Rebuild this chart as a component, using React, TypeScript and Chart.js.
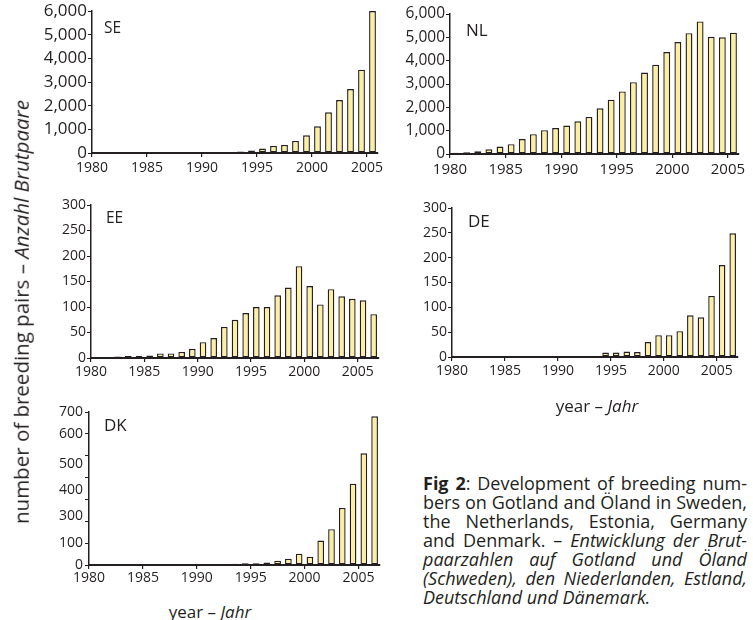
import React, { useEffect, useRef } from "react";
import { Chart, registerables } from "chart.js";

Chart.register(...registerables);

const FONT = '"Open Sans", "Noto Sans", sans-serif';
const INK = "#231f20";
const FILL = "#fcefa2";

// x-axis tick labels (years)
const YEAR_TICKS = [1980, 1985, 1990, 1995, 2000, 2005];

// Sweden (Gotland & Öland)
const SE_YEARS = [1989, 1990, 1991, 1992, 1993, 1994, 1995, 1996, 1997, 1998, 1999, 2000, 2001, 2002, 2003, 2004, 2005];
const SE_PAIRS = [20, 20, 20, 30, 60, 110, 190, 300, 340, 510, 750, 1130, 1720, 2240, 2700, 3520, 6000];

// Netherlands
const NL_YEARS = [1980, 1981, 1982, 1983, 1984, 1985, 1986, 1987, 1988, 1989, 1990, 1991, 1992, 1993, 1994, 1995, 1996, 1997, 1998, 1999, 2000, 2001, 2002, 2003, 2004, 2005];
const NL_PAIRS = [50, 80, 120, 200, 320, 420, 640, 850, 1020, 1110, 1220, 1400, 1590, 1960, 2330, 2680, 3080, 3490, 3830, 4370, 4800, 5180, 5680, 5020, 5000, 5200];

// Estonia
const EE_YEARS = [1981, 1982, 1983, 1984, 1985, 1986, 1987, 1988, 1989, 1990, 1991, 1992, 1993, 1994, 1995, 1996, 1997, 1998, 1999, 2000, 2001, 2002, 2003, 2004, 2005, 2006];
const EE_PAIRS = [2, 3, 4, 4, 5, 9, 9, 12, 18, 31, 39, 61, 75, 88, 100, 100, 123, 138, 180, 141, 105, 135, 121, 116, 113, 86];

// Germany
const DE_YEARS = [1994, 1995, 1996, 1997, 1998, 1999, 2000, 2001, 2002, 2003, 2004, 2005, 2006];
const DE_PAIRS = [9, 9, 11, 10, 30, 44, 44, 52, 84, 80, 123, 185, 249];

// Denmark
const DK_YEARS = [1993, 1994, 1995, 1996, 1997, 1998, 1999, 2000, 2001, 2002, 2003, 2004, 2005, 2006];
const DK_PAIRS = [6, 8, 8, 11, 20, 29, 52, 38, 112, 164, 261, 372, 511, 680];
// DK tick labels as printed in the original (200 missing, labels drift)
const DK_LABEL_VALUES = [0, 100, 226, 342, 460, 600, 700];
const DK_LABEL_TEXT = ["0", "100", "300", "400", "500", "600", "700"];

type Spec = {
  years: number[];
  pairs: number[];
  xMax: number;
  yMax: number;
  yStep: number;
  comma: boolean;
  plot: [number, number, number, number];
  yFont: number;
  xFont: number;
  xPad: number;
  labelAt?: number[];
  labelText?: string[];
};

const PANELS: Spec[] = [
  { years: SE_YEARS, pairs: SE_PAIRS, xMax: 2006, yMax: 6000, yStep: 1000, comma: true, plot: [92, 11, 378, 153], yFont: 17, xFont: 14, xPad: 3 },
  { years: NL_YEARS, pairs: NL_PAIRS, xMax: 2006, yMax: 6000, yStep: 1000, comma: true, plot: [450, 14, 739, 154], yFont: 15.5, xFont: 15, xPad: 3 },
  { years: EE_YEARS, pairs: EE_PAIRS, xMax: 2007, yMax: 300, yStep: 50, comma: false, plot: [91, 205, 379, 358], yFont: 14, xFont: 14, xPad: 2 },
  { years: DE_YEARS, pairs: DE_PAIRS, xMax: 2007, yMax: 300, yStep: 50, comma: false, plot: [452, 208, 738, 357], yFont: 14, xFont: 14, xPad: 2 },
  { years: DK_YEARS, pairs: DK_PAIRS, xMax: 2007, yMax: 700, yStep: 100, comma: false, plot: [89, 412, 380, 565], yFont: 14, xFont: 14, xPad: 1, labelAt: DK_LABEL_VALUES, labelText: DK_LABEL_TEXT },
];

function Panel({ s }: { s: Spec }) {
  const ref = useRef<HTMLCanvasElement>(null);
  const [pl, pt, pr, pb] = s.plot;
  const left = Math.max(0, pl - 80);
  const top = pt - 14;
  const width = Math.round(pr + 16 - left);
  const height = Math.round(pb + 32 - top);

  useEffect(() => {
    const canvas = ref.current;
    if (!canvas) return;
    const yW = pl - left;
    const xH = top + height - pb;
    const twoAxes = !!s.labelAt;
    const scales: any = {
      x: {
        type: "linear",
        min: 1980,
        max: s.xMax,
        offset: false,
        afterBuildTicks: (sc: any) => {
          sc.ticks = YEAR_TICKS.map((v) => ({ value: v }));
        },
        afterFit: (sc: any) => {
          sc.height = xH;
        },
        grid: { offset: false, drawOnChartArea: false, drawTicks: true, tickLength: 4, color: INK, lineWidth: 1.2 },
        border: { display: true, color: INK, width: 2 },
        ticks: {
          autoSkip: false,
          maxRotation: 0,
          padding: s.xPad,
          color: INK,
          font: { family: FONT, size: s.xFont },
          callback: (v: any) => String(v),
        },
      },
      y: {
        type: "linear",
        position: "left",
        weight: 0,
        min: 0,
        max: s.yMax,
        afterFit: (sc: any) => {
          sc.width = twoAxes ? 5 : yW;
        },
        grid: { drawOnChartArea: false, drawTicks: true, tickLength: 4, color: INK, lineWidth: 1 },
        border: { display: true, color: INK, width: 1.5 },
        ticks: {
          display: !twoAxes,
          stepSize: s.yStep,
          padding: 1,
          color: INK,
          font: { family: FONT, size: s.yFont },
          callback: (v: any) => (s.comma ? Number(v).toLocaleString("en-US") : String(v)),
        },
      },
    };
    if (twoAxes) {
      scales.yl = {
        type: "linear",
        position: "left",
        weight: 1,
        min: 0,
        max: s.yMax,
        afterBuildTicks: (sc: any) => {
          sc.ticks = (s.labelAt as number[]).map((v) => ({ value: v }));
        },
        afterFit: (sc: any) => {
          sc.width = yW - 5;
        },
        grid: { display: false, drawTicks: false },
        border: { display: false },
        ticks: {
          padding: 1,
          color: INK,
          font: { family: FONT, size: s.yFont },
          callback: (_v: any, i: number) => (s.labelText as string[])[i],
        },
      };
    }
    const chart = new Chart(canvas, {
      type: "bar",
      data: {
        datasets: [
          {
            data: s.years.map((yr, i) => ({ x: yr + 0.5, y: s.pairs[i] })),
            backgroundColor: FILL,
            borderColor: INK,
            borderWidth: 1.4,
            borderSkipped: false,
            barPercentage: 0.62,
            categoryPercentage: 1,
          } as any,
        ],
      },
      options: {
        animation: false,
        responsive: false,
        maintainAspectRatio: false,
        devicePixelRatio: 1,
        layout: { padding: { top: pt - top, right: left + width - pr, left: 0, bottom: 0 } },
        plugins: { legend: { display: false }, tooltip: { enabled: false }, title: { display: false } },
        scales,
      },
    });
    return () => chart.destroy();
  }, []);

  return (
    <canvas
      ref={ref}
      width={width}
      height={height}
      style={{ position: "absolute", left, top, width, height }}
    />
  );
}

const tag = (left: number, top: number, size: number, text: string) => (
  <div style={{ position: "absolute", left, top, fontSize: size, lineHeight: 1, fontFamily: FONT, color: INK, whiteSpace: "nowrap" }}>
    {text}
  </div>
);

const lineStyle = (i: number, last: boolean): React.CSSProperties => ({
  position: "absolute",
  left: 0,
  top: i * 19,
  width: 324,
  height: 19,
  textAlign: last ? "left" : "justify",
  textAlignLast: last ? "left" : "justify",
  whiteSpace: "normal",
} as any);

export default function App() {
  return (
    <div style={{ position: "absolute", left: 0, top: 0, width: 753, height: 620, overflow: "hidden", background: "#fff", fontFamily: FONT, color: INK }}>
      {PANELS.map((s, i) => (
        <Panel key={i} s={s} />
      ))}
      {tag(104, 20, 15.5, "SE")}
      {tag(466, 21, 17, "NL")}
      {tag(106, 210, 15.5, "EE")}
      {tag(468, 212, 17, "DE")}
      {tag(104, 416, 17, "DK")}

      <div style={{ position: "absolute", left: 21, top: 312, transform: "translate(-50%, -50%) rotate(-90deg)", whiteSpace: "nowrap", fontSize: 20.5, lineHeight: 1, fontFamily: FONT }}>
        number of breeding pairs – <i>Anzahl Brutpaare</i>
      </div>

      <div style={{ position: "absolute", left: 597, top: 405, transform: "translate(-50%, -50%)", whiteSpace: "nowrap", fontSize: 17, lineHeight: 1 }}>
        year – <i>Jahr</i>
      </div>
      <div style={{ position: "absolute", left: 210, top: 611, transform: "translate(-50%, -50%)", whiteSpace: "nowrap", fontSize: 17, lineHeight: 1 }}>
        year – <i>Jahr</i>
      </div>

      <div style={{ position: "absolute", left: 423, top: 474, width: 324, fontSize: 18, lineHeight: "19px", fontFamily: FONT }}>
        <div style={lineStyle(0, false)}><b>Fig 2</b>: Development of breeding num-</div>
        <div style={lineStyle(1, false)}>bers on Gotland and Öland in Sweden,</div>
        <div style={lineStyle(2, false)}>the Netherlands, Estonia, Germany</div>
        <div style={lineStyle(3, false)}>and Denmark. – <i>Entwicklung der Brut-</i></div>
        <div style={lineStyle(4, false)}><i>paarzahlen auf Gotland und Öland</i></div>
        <div style={lineStyle(5, false)}><i>(Schweden), den Niederlanden, Estland,</i></div>
        <div style={lineStyle(6, true)}><i>Deutschland und Dänemark.</i></div>
      </div>
    </div>
  );
}
